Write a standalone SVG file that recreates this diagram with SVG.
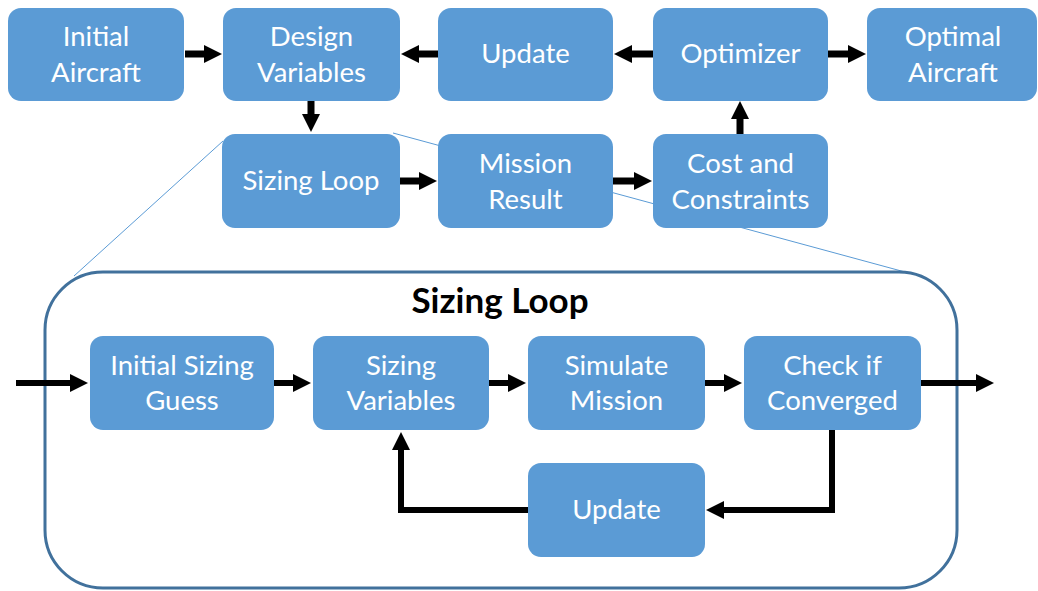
<svg xmlns="http://www.w3.org/2000/svg" width="1038" height="591" viewBox="0 0 1038 591">
<style>
.box{fill:#5B9BD5;}
.lbl{fill:#FFFFFF;font-family:Lato,"Liberation Sans",sans-serif;font-size:27.5px;text-anchor:middle;}
.arr{stroke:#000;stroke-width:7;fill:none;marker-end:url(#ah);}
.loop{stroke:#000;stroke-width:6;fill:none;marker-end:url(#ah);}
.zoom{stroke:#5B9BD5;stroke-width:1;fill:none;}
.title{fill:#000;font-family:Lato,"Liberation Sans",sans-serif;font-size:35px;font-weight:bold;text-anchor:middle;}
</style>
<defs>
<marker id="ah" viewBox="0 0 18 18" refX="8" refY="9" markerWidth="18" markerHeight="18" markerUnits="userSpaceOnUse" orient="auto">
<path d="M0,0 L18,9 L0,18 z" fill="#000"/>
</marker>
</defs>
<rect width="1038" height="591" fill="#FFFFFF"/>
<g id="zoom-lines">
<line class="zoom" x1="223" y1="141" x2="74" y2="276"/>
<line class="zoom" x1="393" y1="133" x2="905" y2="272"/>
</g>
<g id="sizing-loop-frame">
<rect x="45" y="272" width="912" height="316" rx="58" ry="58" fill="none" stroke="#41719C" stroke-width="3"/>
<text class="title" x="500" y="313">Sizing Loop</text>
</g>
<g id="connectors">
<line class="arr" x1="185" y1="54" x2="212" y2="54"/>
<line class="arr" x1="438" y1="54" x2="411" y2="54"/>
<line class="arr" x1="653" y1="54" x2="624" y2="54"/>
<line class="arr" x1="828" y1="54" x2="856" y2="54"/>
<line class="arr" x1="311" y1="100" x2="311" y2="122"/>
<line class="arr" x1="400" y1="181" x2="427" y2="181"/>
<line class="arr" x1="613" y1="181" x2="642" y2="181"/>
<line class="arr" x1="740" y1="134" x2="740" y2="111"/>
<line class="loop" x1="16" y1="383" x2="78" y2="383"/>
<line class="loop" x1="274" y1="383" x2="301" y2="383"/>
<line class="loop" x1="489" y1="383" x2="516" y2="383"/>
<line class="loop" x1="705" y1="383" x2="732" y2="383"/>
<line class="loop" x1="921" y1="383" x2="984" y2="383"/>
<polyline class="loop" points="832,430 832,510 716,510"/>
<polyline class="loop" points="528,510 401,510 401,442"/>
</g>
<g id="initial-aircraft">
<rect class="box" x="8" y="8" width="176" height="93" rx="13"/>
<text class="lbl" x="96" y="46">Initial</text>
<text class="lbl" x="96" y="82">Aircraft</text>
</g>
<g id="design-variables">
<rect class="box" x="223" y="8" width="177" height="93" rx="13"/>
<text class="lbl" x="311.5" y="46">Design</text>
<text class="lbl" x="311.5" y="82">Variables</text>
</g>
<g id="update-top">
<rect class="box" x="438" y="8" width="175" height="93" rx="13"/>
<text class="lbl" x="525.5" y="63">Update</text>
</g>
<g id="optimizer">
<rect class="box" x="653" y="8" width="175" height="93" rx="13"/>
<text class="lbl" x="740.5" y="63">Optimizer</text>
</g>
<g id="optimal-aircraft">
<rect class="box" x="867" y="8" width="170" height="93" rx="13"/>
<text class="lbl" x="953" y="46">Optimal</text>
<text class="lbl" x="953" y="82">Aircraft</text>
</g>
<g id="sizing-loop">
<rect class="box" x="222" y="134" width="178" height="94" rx="13"/>
<text class="lbl" x="311" y="190">Sizing Loop</text>
</g>
<g id="mission-result">
<rect class="box" x="438" y="134" width="175" height="94" rx="13"/>
<text class="lbl" x="525.5" y="173">Mission</text>
<text class="lbl" x="525.5" y="209">Result</text>
</g>
<g id="cost-constraints">
<rect class="box" x="653" y="134" width="175" height="94" rx="13"/>
<text class="lbl" x="740.5" y="173">Cost and</text>
<text class="lbl" x="740.5" y="209">Constraints</text>
</g>
<g id="initial-sizing-guess">
<rect class="box" x="90" y="336" width="184" height="94" rx="13"/>
<text class="lbl" x="182" y="375">Initial Sizing</text>
<text class="lbl" x="182" y="410">Guess</text>
</g>
<g id="sizing-variables">
<rect class="box" x="313" y="336" width="176" height="94" rx="13"/>
<text class="lbl" x="401" y="375">Sizing</text>
<text class="lbl" x="401" y="410">Variables</text>
</g>
<g id="simulate-mission">
<rect class="box" x="528" y="336" width="177" height="94" rx="13"/>
<text class="lbl" x="616.5" y="375">Simulate</text>
<text class="lbl" x="616.5" y="410">Mission</text>
</g>
<g id="check-converged">
<rect class="box" x="744" y="336" width="177" height="94" rx="13"/>
<text class="lbl" x="832.5" y="375">Check if</text>
<text class="lbl" x="832.5" y="410">Converged</text>
</g>
<g id="update-inner">
<rect class="box" x="528" y="463" width="177" height="94" rx="13"/>
<text class="lbl" x="616.5" y="519">Update</text>
</g>
</svg>
